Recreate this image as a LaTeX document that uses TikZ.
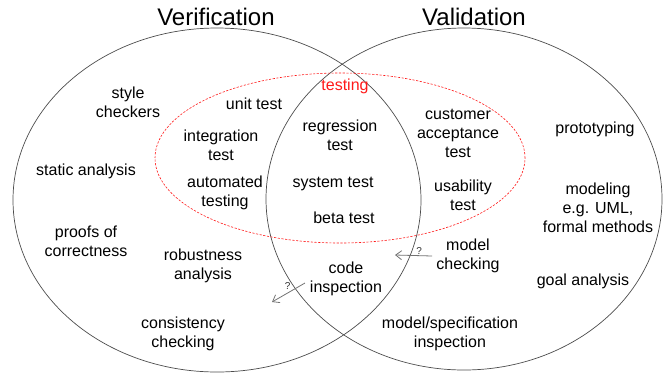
\documentclass[tikz,border=0pt]{standalone}
\usepackage{fontspec}
\setmainfont{Liberation Sans}
\usetikzlibrary{arrows.meta}

\begin{document}
\begin{tikzpicture}
[x=1pt,y=-1pt,
  setLine/.style={draw=black!70,line width=0.7pt},%
  testLine/.style={draw=red!90,dash pattern=on 2.2pt off 1.5pt,line width=0.6pt},%
  lightArrow/.style={-{Straight Barb[length=6pt,width=9pt]},color=black!55,line width=0.8pt},%
  itemText/.style={align=center,font=\fontsize{16}{19}\selectfont,inner sep=0pt},%
  titleText/.style={font=\fontsize{24}{28}\selectfont,inner sep=0pt},%
  askText/.style={font=\fontsize{10}{11}\selectfont,inner sep=1pt,color=black!80}]
\useasboundingbox (0,0) rectangle (663,376);
%% the two sets and the testing area
\draw[setLine] (217,200) ellipse [x radius=204pt, y radius=172pt];
\draw[setLine] (464,199) ellipse [x radius=198pt, y radius=171pt];
\draw[testLine] (340,158) ellipse [x radius=185pt, y radius=85pt];
%% titles
\node (verification) at (216,17) [titleText] {Verification};
\node (validation) at (474,17) [titleText] {Validation};
\node (testing) at (345,86) [itemText,text=red!90] {testing};
%% techniques
\foreach \nodename/\x/\y/\txt in {
  style/128/102/{style\\checkers}, unit/254/104/{unit test},
  integration/221/145/{integration\\test}, regression/340/135/{regression\\test},
  customer/458/133/{customer\\acceptance\\test}, prototyping/595/129/{prototyping},
  static/86/171/{static analysis}, automated/225/193/{automated\\testing},
  system/333/184/{system test}, usability/463/195/{usability\\test},
  modeling/598/208/{modeling\\e.g. UML,\\formal methods},
  proofs/86/241/{proofs of\\correctness}, beta/344/218/{beta test},
  modelcheck/468/256/{model\\checking}, robustness/203/266/{robustness\\analysis},
  code/346/279/{code\\inspection}, goal/583/281/{goal analysis},
  consistency/183/334/{consistency\\checking},
  modelspec/450/334/{model/specification\\inspection}}
{
  \node (\nodename) at (\x,\y) [itemText] {\txt};
}
%% uncertain moves
\coordinate (mcTail) at ([xshift=-4pt]modelcheck.west);
\coordinate (mcHead) at (395,255);
\coordinate (ciTail) at (305,283);
\coordinate (ciHead) at (272,302);
\draw[lightArrow] (mcTail) -- node[askText,pos=0.35,above] {?} (mcHead);
\draw[lightArrow] (ciTail) -- node[askText,pos=0.4,above left] {?} (ciHead);
\end{tikzpicture}
\end{document}
